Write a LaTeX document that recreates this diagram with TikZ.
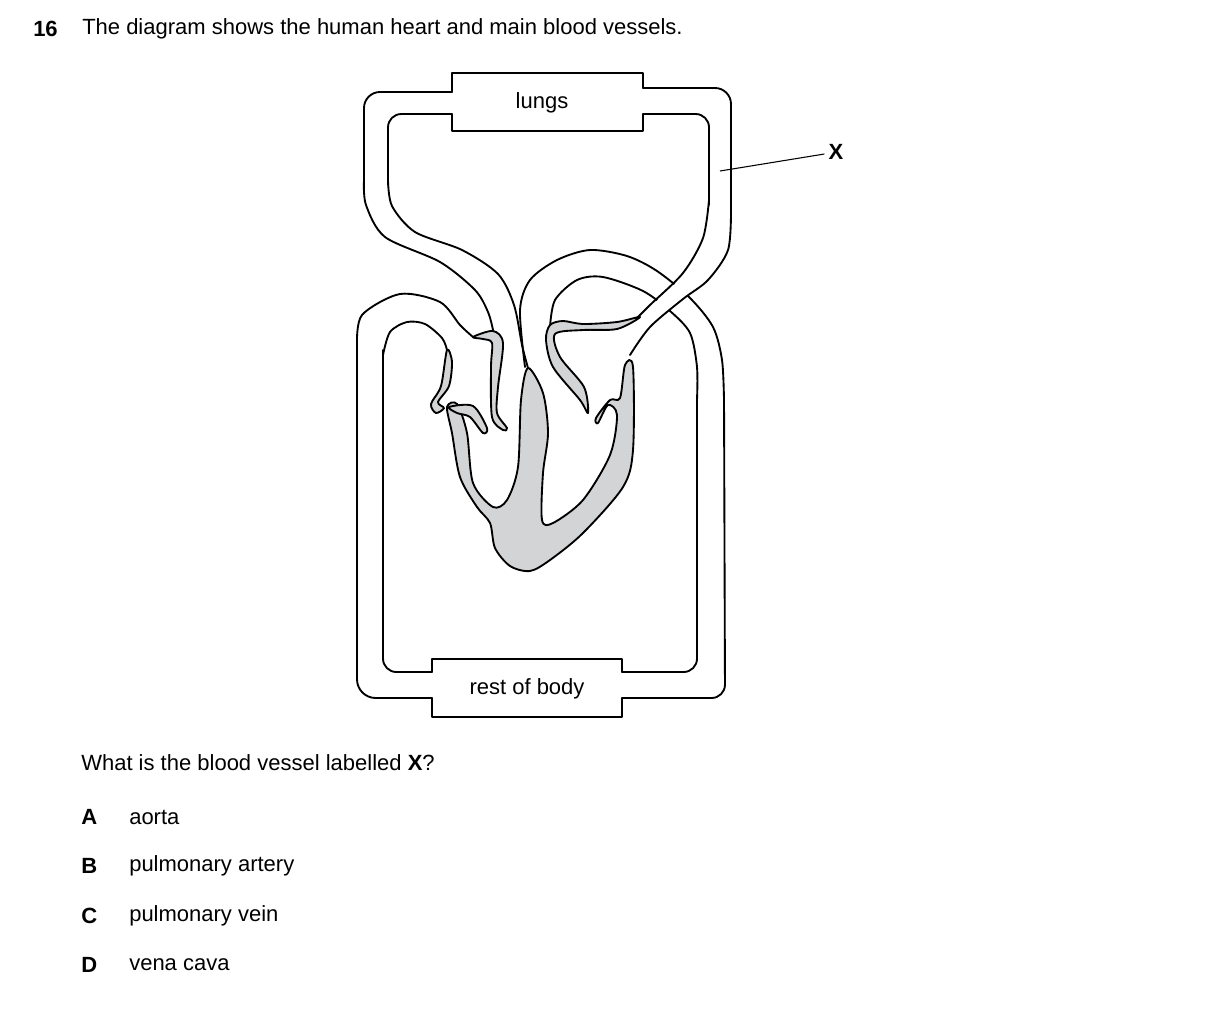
\documentclass[tikz,border=0pt]{standalone}
\usepackage{fontspec}
\setmainfont{Liberation Sans}
\begin{document}
\begin{tikzpicture}[x=0.75pt,y=-0.75pt,
  vl/.style={line width=1.4pt,line join=round,line cap=round},
  gr/.style={vl,fill=heartgray},
  txt/.style={font=\fontsize{16.5}{19}\selectfont,inner sep=0pt}]
\definecolor{heartgray}{RGB}{211,212,213}
\useasboundingbox (0,0) rectangle (1209,1029);
% lungs box
\draw[vl] (452,92)--(452,73)--(643,73)--(643,88);
\draw[vl] (452,114)--(452,131)--(643,131)--(643,114);
\node[txt] (lungs) at (542,103) {lungs};
% rest of body box
\draw[vl] (432,672)--(432,659)--(622,659)--(622,672);
\draw[vl] (432,698)--(432,717)--(622,717)--(622,698);
\node[txt] (body) at (527,689) {rest of body};
% pulmonary vein (left, from lungs)
\draw[vl,rounded corners=12] (452,92)--(364,92)--(364,185);
\draw[vl] plot[smooth] coordinates {(364,180)(366,205)(385,237)(440,262)(475,290)(488,312)(493,330)};
\draw[vl,rounded corners=10] (452,114)--(388,114)--(388,185);
\draw[vl] plot[smooth] coordinates {(388,180)(392,206)(415,232)(462,250)(498,274)(514,305)(522,345)(528,368)};
% aorta
\draw[vl] plot[smooth] coordinates {(525,367)(520,310)(530,280)(557,260)(590,250)(627,256)(657,271)(690,298)(713,327)(722,360)(724,400)};
\draw[vl,rounded corners=10] (724,395)--(725,698)--(622,698);
\draw[vl] plot[smooth] coordinates {(550,327)(555,300)(577,280)(603,277)(643,291)(670,311)(690,333)(697,367)(697,400)};
\draw[vl,rounded corners=10] (697,395)--(697,672)--(622,672);
% left body loop
\draw[vl,rounded corners=14] (432,698)--(357,698)--(357,340);
\draw[vl] plot[smooth] coordinates {(357,345)(362,315)(400,294)(440,302)(460,325)(473,337)};
\draw[vl,rounded corners=10] (432,672)--(383,672)--(383,350);
\draw[vl] plot[smooth] coordinates {(383,355)(390,332)(407,322)(425,324)(442,338)(447,350)};
% X vessel (pulmonary artery)
\fill[white] plot[smooth] coordinates {(731,205)(727,250)(705,280)(683,299)(650,327)(630,355)} -- plot[smooth] coordinates {(637,318)(650,307)(683,275)(703,238)(709,200)} -- cycle;
\draw[vl,rounded corners=12] (643,88)--(731,88)--(731,215);
\draw[vl] plot[smooth] coordinates {(731,210)(728,250)(708,280)(683,299)(650,327)(630,355)};
\draw[vl,rounded corners=10] (643,114)--(709,114)--(709,205);
\draw[vl] plot[smooth] coordinates {(709,200)(703,238)(683,273)(650,305)(637,318)};
% heart gray parts
\draw[gr] plot[smooth cycle,tension=0.5] coordinates {(528,368)(543,393)(548,433)(543,473)(542,520)(553,523)(583,500)(610,455)(617,415)(608,405)(598,423)(596,418)(610,400)(620,398)(625,365)(633,367)(633,450)(623,487)(583,533)(550,560)(530,571)(510,566)(495,548)(490,523)(477,507)(460,477)(452,433)(447,407)(457,404)(467,433)(473,483)(493,507)(507,500)(518,467)(521,400)};
\draw[gr] plot[smooth cycle,tension=0.5] coordinates {(449,407)(473,406)(487,428)(483,433)(470,417)(457,413)};
\draw[gr] plot[smooth cycle,tension=0.5] coordinates {(447,350)(441,386)(431,404)(436,413)(444,408)(438,402)(449,386)(452,362)};
\draw[gr] plot[smooth cycle,tension=0.5] coordinates {(473,337)(493,331)(503,343)(498,387)(497,413)(507,428)(503,430)(492,417)(491,367)(492,343)(483,339)};
\draw[gr] plot[smooth cycle,tension=0.5] coordinates {(550,325)(546,340)(553,367)(580,400)(588,413)(584,387)(560,357)(555,334)(583,330)(617,329)(640,317)(617,322)(583,324)(563,321)};
% label X
\node[txt,font=\fontsize{16.5}{19}\selectfont\bfseries] (X) at (836,152) {X};
\coordinate (xend) at (720,171);
\draw[line width=0.8pt] (X.west)++(-4,2) -- (xend);
% texts
\node[txt,anchor=west,font=\fontsize{16.5}{19}\selectfont\bfseries] (q) at (33,29) {16};
\node[txt,anchor=west] (title) at (82,29) {The diagram shows the human heart and main blood vessels.};
\node[txt,anchor=west] (ques) at (81,763) {What is the blood vessel labelled \textbf{X}?};
\foreach \l/\t/\y [count=\i] in {A/aorta/817,B/pulmonary artery/866,C/pulmonary vein/916,D/vena cava/965}{
  \node[txt,anchor=west,font=\fontsize{16.5}{19}\selectfont\bfseries] (L\i) at (81,\y) {\l};
  \node[txt,anchor=west] (T\i) at (129,\y) {\t};
}
\end{tikzpicture}
\end{document}
